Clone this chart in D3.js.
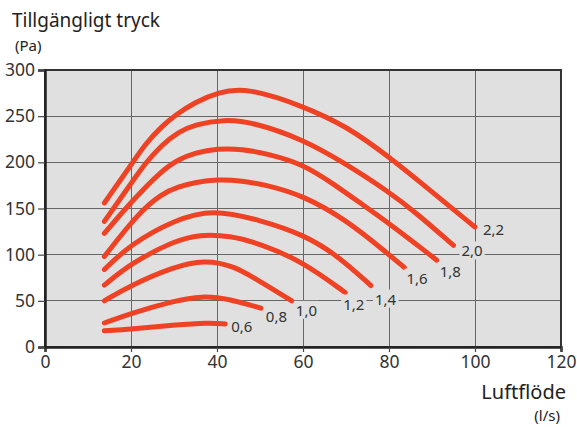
<!DOCTYPE html>
<html><head><meta charset="utf-8">
<script src="https://cdn.jsdelivr.net/npm/d3@7"></script>
<style>
html,body{margin:0;padding:0;background:#fff;}
svg{display:block;font-family:"Noto Sans",sans-serif;}
</style></head>
<body>
<svg id="chart" width="577" height="427"></svg>
<script>
// ---- data ----
const seriesNames = ["2,2","2,0","1,8","1,6","1,4","1,2","1,0","0,8","0,6"];
const flow22 = [13.8,20,23.3,27.2,30.2,34.9,40.2,47,60,70.2,80,89.5,97.3,100];
const pres22 = [156,197,220,239,251,265,276,281,261,239,206,170,140,130];
const flow20 = [13.8,20,23.3,27.2,31,34.9,41.5,48,60,69.4,80,86.4,95];
const pres20 = [136,177,199,219,233,241,246.5,244,225,200,168,145,110];
const flow18 = [13.8,20,27.1,31,34.9,40.2,45.7,52,60,67,74.8,80,89.5,91.1];
const pres18 = [123,157,191,203,210.5,215,214.5,209,198,177,151,134,100,94];
const flow16 = [13.8,21.7,27.1,31,35,40.2,45.7,52,60,70,80,83.6];
const pres16 = [98,145,166,173.5,178.5,181.5,180,175,164,138,100,86];
const flow14 = [13.8,20,30,39,50,60,67.8,75.8];
const pres14 = [84,111.5,137.5,149.5,137.5,122,100,66.5];
const flow12 = [13.8,20,30,36,43,50,60,69.8];
const pres12 = [67,90.6,115,122,120.5,112,92.4,59];
const flow10 = [13.8,20,30,37,44,50,57.4];
const pres10 = [50,67,87,94.5,88,71,50];
const flow08 = [13.8,20,30,36.4,43,50.2];
const pres08 = [26,36.5,49.8,55.5,52,42];
const flow06 = [13.8,20,30,38,41.9];
const pres06 = [17.5,19.5,23.8,26.5,25];
const xTicks = [0,20,40,60,80,100,120];
const yTicks = [0,50,100,150,200,250,300];

const flows = [flow22,flow20,flow18,flow16,flow14,flow12,flow10,flow08,flow06];
const pressures = [pres22,pres20,pres18,pres16,pres14,pres12,pres10,pres08,pres06];
// label offsets from curve end (pixels)
const labelDx = [8,8,3,2,4,-2,4,5,6];
const labelDy = [8,11,17,16,19,17,15,14,8];

// ---- layout ----
const svg = d3.select("#chart");
const x = d3.scaleLinear().domain([0,120]).range([45,561]);
const y = d3.scaleLinear().domain([0,300]).range([347,70]);
const plotBg = "#e0e0e0";
const red = "#ef4123";
const textCol = "#333";

svg.append("rect").attr("x",x(0)).attr("y",y(300))
  .attr("width",x(120)-x(0)).attr("height",y(0)-y(300)).attr("fill",plotBg);

// grid
svg.append("g").selectAll("line").data(xTicks.slice(1,-1)).join("line")
  .attr("x1",d=>x(d)).attr("x2",d=>x(d)).attr("y1",y(0)).attr("y2",y(300))
  .attr("stroke","#666").attr("stroke-width",1).attr("shape-rendering","crispEdges");
svg.append("g").selectAll("line").data(yTicks.slice(1,-1)).join("line")
  .attr("y1",d=>y(d)).attr("y2",d=>y(d)).attr("x1",x(0)).attr("x2",x(120))
  .attr("stroke","#666").attr("stroke-width",1).attr("shape-rendering","crispEdges");

// frame
svg.append("rect").attr("x",x(0)).attr("y",y(300))
  .attr("width",x(120)-x(0)).attr("height",y(0)-y(300))
  .attr("fill","none").attr("stroke","#333").attr("stroke-width",2);

// axes
const xAxis = svg.append("g").attr("transform",`translate(0,${y(0)})`)
  .call(d3.axisBottom(x).tickValues(xTicks).tickSize(5).tickPadding(4));
const yAxis = svg.append("g").attr("transform",`translate(${x(0)},0)`)
  .call(d3.axisLeft(y).tickValues(yTicks).tickSize(7).tickPadding(3));
[xAxis,yAxis].forEach(a=>{
  a.select(".domain").attr("stroke","#222").attr("stroke-width",2.5);
  a.selectAll(".tick line").attr("stroke","#444").attr("stroke-width",1.2);
  a.selectAll(".tick text").attr("fill",textCol)
    .style("font-family","'Noto Sans',sans-serif").style("font-size","17.5px");
});

// curves
const line = d3.line().x(d=>x(d[0])).y(d=>y(d[1])).curve(d3.curveBasis);
const series = seriesNames.map((name,i)=>({name, pts: flows[i].map((f,j)=>[f,pressures[i][j]])}));

svg.append("g").selectAll("path").data(series).join("path")
  .attr("d",d=>line(d.pts)).attr("fill","none").attr("stroke",red)
  .attr("stroke-width",5).attr("stroke-linecap","round").attr("stroke-linejoin","round");

// labels with background
const lg = svg.append("g");
series.forEach((s,i)=>{
  const end = s.pts[s.pts.length-1];
  const lx = x(end[0])+labelDx[i], ly = y(end[1])+labelDy[i];
  const t = lg.append("text").attr("x",lx).attr("y",ly).text(s.name)
    .attr("fill",textCol).style("font-size","15px");
  const bb = t.node().getBBox();
  lg.insert("rect","text").attr("x",bb.x-2).attr("y",bb.y+1)
    .attr("width",bb.width+4).attr("height",bb.height-2).attr("fill",plotBg);
});

// titles
svg.append("text").attr("x",12).attr("y",27).text("Tillgängligt tryck")
  .attr("fill","#222").style("font-size","19px");
svg.append("text").attr("x",15).attr("y",51).text("(Pa)")
  .attr("fill","#222").style("font-size","15px");
svg.append("text").attr("x",566).attr("y",399).attr("text-anchor","end").text("Luftflöde")
  .attr("fill","#222").style("font-size","20px");
svg.append("text").attr("x",560).attr("y",421).attr("text-anchor","end").text("(l/s)")
  .attr("fill","#222").style("font-size","15px");
</script>
</body></html>
